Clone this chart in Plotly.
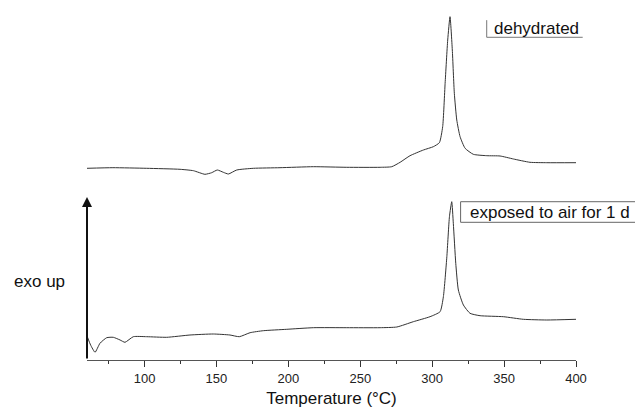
import plotly.graph_objects as go

# Temperature (°C) and heat flow (arbitrary units, offset traces)
temp_dehydrated = [60, 78, 101.5, 124.7, 134, 142, 146.7, 150.6, 154.8, 158.3, 164.1, 175.7,
                   194.2, 217.4, 240.6, 263.8, 271.9, 277.7, 284.6, 293.9, 300.8, 305, 307.3,
                   309, 310.8, 312.4, 314, 315.4, 317.1, 319.4, 322.9, 328.6, 338, 347.2,
                   356.5, 368, 379.7, 400]
hf_dehydrated = [191.7, 192.3, 191.7, 190.7, 189.3, 185.7, 187.3, 190, 187.7, 186, 190, 191.7,
                 192.3, 193.3, 192.7, 192.7, 193.3, 197.7, 204.3, 210, 213.3, 217.3, 233.3,
                 276.7, 320, 343.3, 310, 266.7, 240, 223.3, 211.7, 205.7, 204.3, 204,
                 201, 197.7, 197.3, 197.3]

temp_air = [60.2, 62.5, 65.6, 69, 73.7, 78.3, 83, 86.4, 92.2, 101.5, 115.4, 131.6, 147.8,
            159.4, 165.9, 173.4, 182.6, 198.9, 217.4, 240.6, 263.8, 275.4, 286.9, 298.5,
            305.5, 307.8, 310.2, 312, 313.6, 314.7, 316.4, 318.2, 321.7, 326.3, 333.3,
            349.5, 363.4, 379.7, 400]
hf_air = [23.3, 15, 7.7, 16.7, 22.3, 22.7, 20, 17.7, 23.3, 23.3, 22.7, 25, 26,
          25, 23.3, 27.3, 29.3, 30.7, 32.3, 32.3, 32.3, 33, 38.3, 43.3,
          48.3, 63.3, 103.3, 143.3, 158.3, 136.7, 96.7, 70, 55, 46.7, 44.3,
          43.3, 40.7, 40, 40.7]

x_ticks = [100, 150, 200, 250, 300, 350, 400]
labels = ["dehydrated", "exposed to air for 1 d"]

FONT = "Liberation Sans, Arial, sans-serif"
LINE = "#333333"

fig = go.Figure()
fig.add_trace(go.Scatter(x=temp_dehydrated, y=hf_dehydrated, mode="lines",
                         line=dict(color=LINE, width=1, shape="spline", smoothing=0.5),
                         showlegend=False))
fig.add_trace(go.Scatter(x=temp_air, y=hf_air, mode="lines",
                         line=dict(color=LINE, width=1, shape="spline", smoothing=0.5),
                         showlegend=False))

fig.update_layout(
    width=635, height=413,
    margin=dict(l=87, r=59, t=0, b=53),
    paper_bgcolor="white", plot_bgcolor="white",
    font=dict(family=FONT, color="#1a1a1a"),
    xaxis=dict(range=[60, 400], tickvals=x_ticks, ticktext=[str(v) for v in x_ticks],
               showgrid=False, zeroline=False, showline=True, linecolor="#555",
               linewidth=1, ticks="outside", ticklen=6, tickcolor="#333", tickwidth=1,
               tickfont=dict(size=13, family=FONT, color="#222"),
               minor=dict(ticks="outside", ticklen=3, tickcolor="#333", dtick=25, tick0=0),
               title=dict(text="Temperature (°C)", font=dict(size=17, family=FONT, color="#111"),
                          standoff=7)),
    yaxis=dict(range=[0, 360], visible=False, showgrid=False, zeroline=False),
)

# vertical arrow (exo up)
fig.add_annotation(x=60, y=163, ax=60, ay=0, xref="x", yref="y", axref="x", ayref="y",
                   text="", showarrow=True, arrowhead=2, arrowsize=1, arrowwidth=2,
                   arrowcolor="#111")
fig.add_annotation(x=-0.098, y=0.219, xref="paper", yref="paper", text="exo up",
                   showarrow=False, xanchor="center", yanchor="middle",
                   font=dict(size=17, family=FONT, color="#111"))

# label boxes
fig.add_shape(type="line", xref="paper", yref="paper", x0=0.8174, x1=0.8174, y0=0.8964, y1=0.944,
              line=dict(color="#777", width=1))
fig.add_shape(type="line", xref="paper", yref="paper", x0=0.8174, x1=1.0137, y0=0.8964, y1=0.8964,
              line=dict(color="#777", width=1))
fig.add_annotation(x=0.8277, y=0.922, xref="paper", yref="paper", text=labels[0],
                   showarrow=False, xanchor="left", yanchor="middle",
                   font=dict(size=17, family=FONT, color="#111"))

fig.add_shape(type="rect", xref="paper", yref="paper", x0=0.764, x1=1.3, y0=0.3825, y1=0.4397,
              line=dict(color="#666", width=1))
fig.add_annotation(x=0.7798, y=0.411, xref="paper", yref="paper", text=labels[1],
                   showarrow=False, xanchor="left", yanchor="middle",
                   font=dict(size=17, family=FONT, color="#111"))

fig.write_html("out.html")
